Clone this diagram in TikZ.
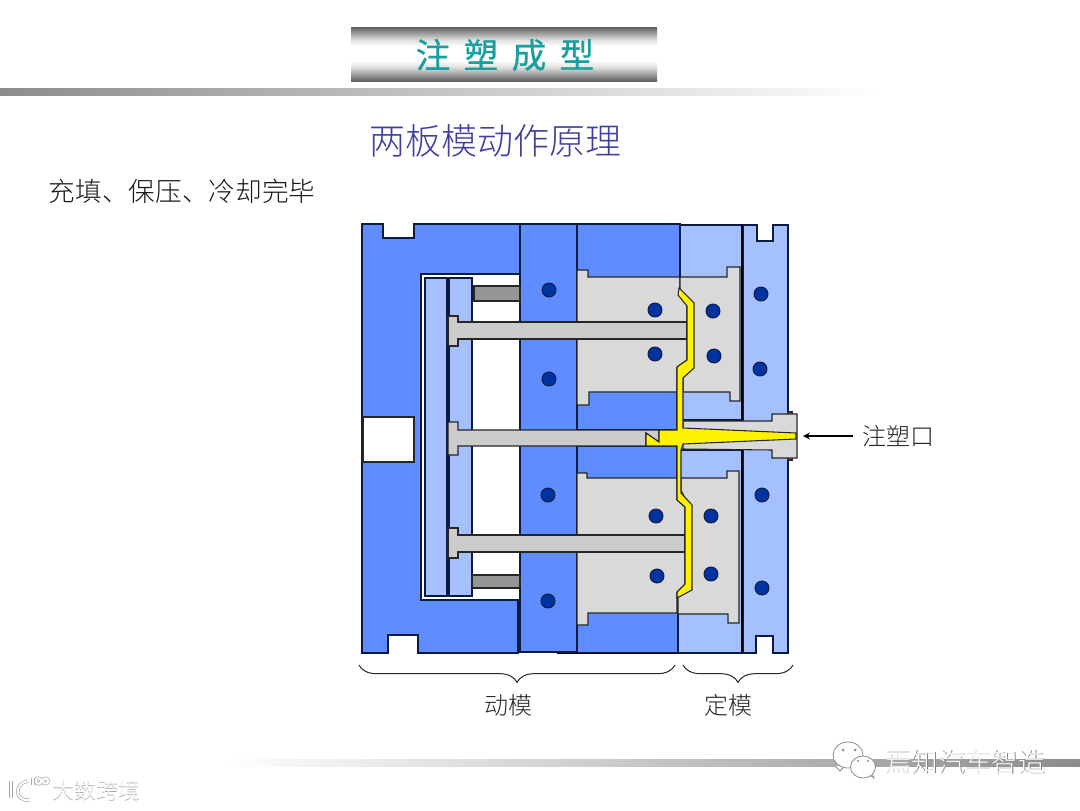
\documentclass[tikz,border=0pt]{standalone}
\usepackage{fontspec}
\newfontfamily\cjk{Noto Sans CJK SC Light}
\newfontfamily\cjkbold[FakeBold=0.5]{Noto Sans CJK SC}
\usetikzlibrary{positioning, shapes, arrows, calc, decorations.pathreplacing}
\definecolor{moldblue}{HTML}{5F8DFF}
\definecolor{paleblue}{HTML}{A4C0FF}
\definecolor{coregrey}{HTML}{D9D9D9}
\definecolor{pingrey}{HTML}{CCCCCC}
\definecolor{stopgrey}{HTML}{969696}
\definecolor{dotblue}{HTML}{0033A0}
\definecolor{edgeblue}{HTML}{0A1A40}
\definecolor{heading}{HTML}{3F3F9F}
\definecolor{tealtext}{HTML}{1A9E9E}
\definecolor{barg}{HTML}{8C8C8C}
\pgfdeclareverticalshading{headbar}{100bp}{
  color(0bp)=(black!62); color(25bp)=(black!62); color(38bp)=(black!12); color(44bp)=(white);
  color(57bp)=(white); color(63bp)=(black!12); color(75bp)=(black!62); color(100bp)=(black!62)}
\begin{document}
\begin{tikzpicture}[
  x=0.75pt, y=-0.75pt,
  plate/.style={draw=edgeblue, line width=0.8pt, fill=moldblue, line join=miter},
  pale/.style={plate, fill=paleblue},
  core/.style={plate, draw=black!85, fill=coregrey},
  pin/.style={plate, draw=black!85, fill=pingrey},
  stopper/.style={plate, draw=black!85, fill=stopgrey},
  melt/.style={draw=black!85, line width=0.8pt, fill=yellow},
  dot/.style={circle, draw=edgeblue, line width=0.7pt, fill=dotblue, minimum size=10.5pt, inner sep=0pt},
  lbl/.style={font=\cjk\fontsize{18}{20}\selectfont, text=black!85},
  brc/.style={draw=black!85, line width=0.75pt, decorate, decoration={brace, mirror, amplitude=13pt}},
  wmark/.style={font=\cjk\fontsize{20}{22}\selectfont, text=white},
  wshadow/.style={wmark, text=black!50},
  smark/.style={font=\cjk\fontsize{16.5}{18}\selectfont, text=white},
  sshadow/.style={smark, text=black!35},
  bubble/.style={draw=black!45, line width=0.6pt, fill=white},
  logo/.style={draw=black!35, line width=0.5pt, double=white, double distance=1.5pt}
]
  \useasboundingbox (0,0) rectangle (1080,810);
  \fill[white] (0,0) rectangle (1080,810);

  % header
  \shade[left color=barg, right color=white] (0,88) rectangle (880,95);
  \shade[left color=white, right color=barg] (220,759) rectangle (1080,766);
  \shade[shading=headbar] (351,27) rectangle (657,81);
  \node[font=\cjkbold\fontsize{26}{30}\selectfont, text=tealtext] (head) at (505,55) {注\hspace{0.385em}塑\hspace{0.385em}成\hspace{0.385em}型};
  \node[font=\cjk\fontsize{27}{30}\selectfont, text=heading] (title) at (495,141) {两板模动作原理};
  \node[font=\cjk\fontsize{20}{24}\selectfont, text=black!90, anchor=west] (sub) at (44,191) {充填、保压、冷却完毕};

  % moving side
  \draw[plate] (362,224) -- (383,224) -- (383,238) -- (414,238) -- (414,224) -- (520,224) -- (520,274) -- (421,274) -- (421,600) -- (518,600) -- (518,653) -- (418,653) -- (418,635) -- (388,635) -- (388,653) -- (362,653) -- cycle;
  \draw[draw=black!85, line width=0.8pt, fill=white] (363,417) rectangle (414,462);
  \draw[plate] (520,224) rectangle (577,652);
  \draw[plate] (577,224) rectangle (680,278);
  \draw[plate] (577,390) rectangle (677,430);
  \draw[plate] (577,446) rectangle (677,480);
  \draw[plate] (577,612) rectangle (678,653);
  \draw[black, line width=1.2pt] (557,653.5) -- (678,653.5);
  \draw[pale] (425,278) rectangle (447,596);
  \draw[pale] (449,278) rectangle (472,596);
  \draw[stopper] (474,286) rectangle (520,301);
  \draw[stopper] (472,575) rectangle (520,588);

  % fixed side
  \draw[pale] (680,225) rectangle (742,420);
  \draw[pale] (678,450) rectangle (742,653);
  \draw[pale] (743,225) -- (757,225) -- (757,241) -- (773,241) -- (773,225) -- (788,225) -- (788,653) -- (773,653) -- (773,636) -- (756,636) -- (756,653) -- (743,653) -- cycle;
  \draw[black, line width=1.6pt] (742,225) -- (742,420) (742,450) -- (742,653);

  % inserts
  \draw[core] (577,270) -- (588,270) -- (588,277) -- (680,277) -- (680,288) -- (687,306) -- (687,360) -- (677,367) -- (677,392) -- (589,392) -- (589,405) -- (577,405) -- cycle;
  \draw[core] (577,473) -- (587,473) -- (587,478) -- (677,478) -- (677,500) -- (685,507) -- (685,584) -- (677,592) -- (677,613) -- (588,613) -- (588,625) -- (577,625) -- cycle;
  \draw[core] (680,277) -- (727,277) -- (727,267) -- (740,267) -- (740,401) -- (730,401) -- (730,392) -- (683,392) -- (683,375) -- (688,365) -- (688,305) -- (680,290) -- cycle;
  \draw[core] (681,478) -- (727,478) -- (727,471) -- (739,471) -- (739,623) -- (728,623) -- (728,614) -- (678,614) -- (678,596) -- (686,590) -- (686,500) -- (681,490) -- cycle;

  % ejector pins
  \draw[pin] (448,316) -- (458,316) -- (458,322) -- (687,322) -- (687,339) -- (458,339) -- (458,346) -- (448,346) -- cycle;
  \draw[pin] (448,422) -- (458,422) -- (458,430) -- (659,430) -- (659,442) -- (646,433) -- (646,446) -- (458,446) -- (458,455) -- (448,455) -- cycle;
  \draw[pin] (448,528) -- (458,528) -- (458,535) -- (685,535) -- (685,552) -- (458,552) -- (458,558) -- (448,558) -- cycle;

  % sprue bush and melt
  \draw[core] (788,412) rectangle (792,460);
  \draw[core] (683,421) -- (772,421) -- (772,414) -- (797,414) -- (797,458) -- (772,458) -- (772,450) -- (683,449) -- cycle;
  \draw[melt] (679,288) -- (694,303) -- (694,368) -- (683,378) -- (683,428) -- (796,433) -- (796,439) -- (683,444) -- (681,450) -- (681,493) -- (692,505) -- (692,590) -- (677,598) -- (677,592) -- (685,584) -- (685,507) -- (677,500) -- (677,446) -- (646,446) -- (646,433) -- (659,442) -- (659,430) -- (677,430) -- (677,367) -- (687,360) -- (687,306) -- (678,295) -- cycle;

  % cooling channels
  \node[dot] (d1) at (549,290) {}; \node[dot] (d2) at (549,379) {};
  \node[dot] (d3) at (548,495) {}; \node[dot] (d4) at (548,601) {};
  \node[dot] (d5) at (655,310) {}; \node[dot] (d6) at (655,354) {};
  \node[dot] (d7) at (713,311) {}; \node[dot] (d8) at (714,356) {};
  \node[dot] (d9) at (761,294) {}; \node[dot] (d10) at (760,369) {};
  \node[dot] (d11) at (656,516) {}; \node[dot] (d12) at (657,576) {};
  \node[dot] (d13) at (711,516) {}; \node[dot] (d14) at (711,574) {};
  \node[dot] (d15) at (762,495) {}; \node[dot] (d16) at (762,588) {};

  % labels
  \node[lbl, anchor=west] (gate) at (858,436) {注塑口};
  \coordinate (gatein) at (803,436);
  \draw[-stealth, black, line width=1.3pt, shorten <=4pt] (gate.west) -- (gatein);
  \coordinate (ml) at (359,665); \coordinate (mr) at (675,665);
  \coordinate (fl) at (683,665); \coordinate (fr) at (793,665);
  \draw[brc] (ml) -- (mr);
  \draw[brc] (fl) -- (fr);
  \node[lbl] (moving) at (508,705) {动模};
  \node[lbl] (fixed) at (728,705) {定模};

  % marks
  \draw[bubble] (835,766) -- (840,771) -- (845,766);
  \draw[bubble] (848,755) ellipse (15 and 13);
  \draw[bubble] (868,774) -- (874,778) -- (871,770);
  \draw[bubble] (863,767) ellipse (12.5 and 11);
  \fill[black!45] (843,750) circle (1.5) (855,750) circle (1.5) (858,761) circle (1.2) (868,761) circle (1.2);
  \node[wshadow] at (965.8,762.8) {焉知汽车智造};
  \node[wmark] (m1) at (965,762) {焉知汽车智造};
  \draw[logo] (11,781) -- (11,798);
  \draw[logo] (28,781) .. controls (14,783) and (14,802) .. (30,800);
  \draw[logo] (33,778) -- (33,785);
  \draw[logo] (38.5,781) circle (2.8) (45.5,781) circle (2.8);
  \node[sshadow] at (96.8,790.8) {大数跨境};
  \node[smark] (m2) at (96,790) {大数跨境};
\end{tikzpicture}
\end{document}
